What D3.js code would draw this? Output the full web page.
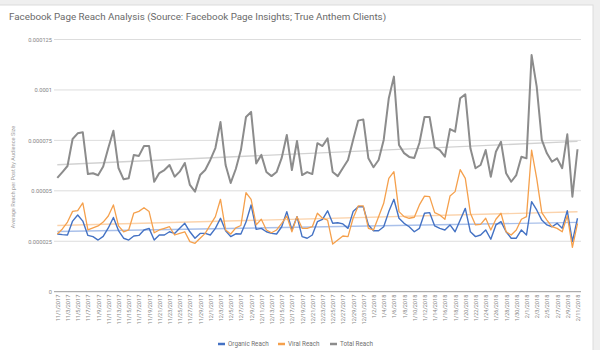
<!DOCTYPE html>
<html>
<head>
<meta charset="utf-8">
<script src="https://cdn.jsdelivr.net/npm/d3@7"></script>
<style>
  html, body { margin: 0; padding: 0; background: #efefef; }
  svg { display: block; font-family: Roboto, "Noto Sans", Arial, sans-serif; }
</style>
</head>
<body>
<svg id="chart" width="600" height="350"></svg>
<script>
// Daily averages, 11/1/2017 through 2/11/2018
const startDate = new Date(2017, 10, 1);
const endDate = new Date(2018, 1, 12);

const organicReach = [
  28.6e-6, 28.3e-6, 28.1e-6, 35.0e-6, 38.0e-6, 35.0e-6, 27.9e-6, 27.3e-6, 25.6e-6, 27.4e-6,
  31.6e-6, 36.8e-6, 30.3e-6, 26.5e-6, 25.6e-6, 27.6e-6, 27.9e-6, 30.6e-6, 31.4e-6, 25.6e-6,
  28.1e-6, 28.1e-6, 29.7e-6, 28.9e-6, 31.4e-6, 33.9e-6, 29.7e-6, 26.5e-6, 28.9e-6, 28.9e-6,
  28.1e-6, 31.4e-6, 36.4e-6, 30.2e-6, 27.3e-6, 28.7e-6, 28.6e-6, 34.5e-6, 43.0e-6, 30.9e-6,
  31.4e-6, 29.7e-6, 28.9e-6, 28.6e-6, 32.2e-6, 39.7e-6, 30.6e-6, 37.2e-6, 27.3e-6, 26.5e-6,
  28.1e-6, 34.7e-6, 35.9e-6, 40.1e-6, 33.9e-6, 34.2e-6, 33.6e-6, 31.4e-6, 39.7e-6, 42.1e-6,
  42.1e-6, 33.1e-6, 30.2e-6, 30.2e-6, 32.2e-6, 39.7e-6, 45.8e-6, 36.4e-6, 33.9e-6, 32.2e-6,
  29.7e-6, 31.4e-6, 38.9e-6, 39.2e-6, 32.6e-6, 31.4e-6, 30.6e-6, 33.1e-6, 29.7e-6, 35.5e-6,
  41.3e-6, 29.7e-6, 27.3e-6, 28.1e-6, 30.6e-6, 26.0e-6, 33.1e-6, 34.7e-6, 29.7e-6, 26.5e-6,
  26.5e-6, 30.6e-6, 28.1e-6, 44.6e-6, 40.5e-6, 35.5e-6, 33.1e-6, 32.2e-6, 33.9e-6, 31.4e-6,
  40.1e-6, 24.8e-6, 36.4e-6
];

const viralReach = [
  28.6e-6, 31.1e-6, 34.5e-6, 39.8e-6, 40.2e-6, 44.0e-6, 30.6e-6, 31.6e-6, 32.6e-6, 34.5e-6,
  37.5e-6, 43.0e-6, 32.6e-6, 29.7e-6, 30.6e-6, 39.0e-6, 39.8e-6, 41.6e-6, 39.7e-6, 29.2e-6,
  30.6e-6, 31.4e-6, 32.2e-6, 28.1e-6, 28.9e-6, 29.7e-6, 24.8e-6, 24.0e-6, 26.5e-6, 28.9e-6,
  33.1e-6, 37.2e-6, 45.8e-6, 30.6e-6, 28.6e-6, 31.6e-6, 32.8e-6, 49.1e-6, 45.8e-6, 33.1e-6,
  35.9e-6, 30.6e-6, 29.2e-6, 30.6e-6, 33.9e-6, 37.5e-6, 29.7e-6, 37.2e-6, 31.4e-6, 31.4e-6,
  32.2e-6, 38.9e-6, 36.4e-6, 35.5e-6, 23.6e-6, 25.6e-6, 27.6e-6, 27.3e-6, 36.4e-6, 42.5e-6,
  42.5e-6, 31.4e-6, 30.6e-6, 37.2e-6, 43.8e-6, 56.2e-6, 59.5e-6, 39.7e-6, 37.2e-6, 36.4e-6,
  36.9e-6, 43.0e-6, 47.4e-6, 47.1e-6, 39.2e-6, 38.0e-6, 35.9e-6, 47.4e-6, 49.6e-6, 60.5e-6,
  56.2e-6, 38.9e-6, 33.1e-6, 33.4e-6, 36.4e-6, 30.6e-6, 35.9e-6, 38.9e-6, 29.7e-6, 28.1e-6,
  30.6e-6, 35.9e-6, 37.2e-6, 70.2e-6, 56.2e-6, 39.2e-6, 35.5e-6, 32.2e-6, 31.4e-6, 29.7e-6,
  37.7e-6, 22.0e-6, 33.9e-6
];

const totalReach = [
  56.4e-6, 59.3e-6, 62.3e-6, 75.7e-6, 78.5e-6, 79.0e-6, 58.3e-6, 58.7e-6, 57.7e-6, 62.0e-6,
  71.2e-6, 79.8e-6, 61.3e-6, 55.7e-6, 56.2e-6, 67.8e-6, 67.3e-6, 72.2e-6, 72.2e-6, 54.5e-6,
  58.8e-6, 60.3e-6, 62.8e-6, 57.0e-6, 59.5e-6, 63.8e-6, 52.9e-6, 49.6e-6, 57.8e-6, 60.3e-6,
  65.3e-6, 71.2e-6, 84.1e-6, 62.8e-6, 53.9e-6, 60.8e-6, 70.2e-6, 86.6e-6, 89.1e-6, 63.6e-6,
  67.8e-6, 59.3e-6, 57.3e-6, 59.3e-6, 66.3e-6, 77.7e-6, 60.3e-6, 74.7e-6, 57.8e-6, 59.3e-6,
  58.3e-6, 73.6e-6, 72.2e-6, 76.0e-6, 59.3e-6, 57.3e-6, 61.3e-6, 65.3e-6, 75.2e-6, 84.8e-6,
  85.4e-6, 66.1e-6, 61.7e-6, 65.3e-6, 75.2e-6, 95.9e-6, 106.6e-6, 72.7e-6, 68.7e-6, 66.8e-6,
  66.3e-6, 73.7e-6, 86.6e-6, 86.6e-6, 71.7e-6, 70.2e-6, 66.9e-6, 80.6e-6, 79.3e-6, 95.9e-6,
  97.8e-6, 71.1e-6, 61.2e-6, 62.8e-6, 70.2e-6, 57.0e-6, 69.4e-6, 74.3e-6, 58.7e-6, 54.5e-6,
  57.8e-6, 66.9e-6, 66.1e-6, 117.3e-6, 101.6e-6, 75.2e-6, 68.6e-6, 64.4e-6, 66.1e-6, 61.2e-6,
  78.0e-6, 47.1e-6, 70.6e-6
];

const yTickValues = [0, 0.000025, 0.00005, 0.000075, 0.0001, 0.000125];
const yTickLabels = ["0", "0.000025", "0.00005", "0.000075", "0.0001", "0.000125"];
const seriesNames = ["Organic Reach", "Viral Reach", "Total Reach"];

const dates = d3.timeDay.range(startDate, endDate);
const fmtDate = d => `${d.getMonth() + 1}/${d.getDate()}/${d.getFullYear()}`;

const series = [
  { name: seriesNames[0], values: organicReach, color: "#4472c4", trend: "#a9c0ea", width: 1.4 },
  { name: seriesNames[1], values: viralReach,   color: "#f5a04c", trend: "#fbd3ac", width: 1.3 },
  { name: seriesNames[2], values: totalReach,   color: "#8c8c8c", trend: "#d2d2d2", width: 2.0 }
];

const svg = d3.select("#chart");

// card
svg.append("rect")
  .attr("x", -1).attr("y", 5).attr("width", 594).attr("height", 350)
  .attr("fill", "#ffffff").attr("stroke", "#dcdcdc");

svg.append("text")
  .attr("x", 9).attr("y", 19.5)
  .attr("font-size", 9.8).attr("fill", "#6a6a6a")
  .text("Facebook Page Reach Analysis (Source: Facebook Page Insights; True Anthem Clients)");

const x = d3.scalePoint().domain(d3.range(dates.length)).range([57.3, 577.5]);
const y = d3.scaleLinear().domain([0, 0.000125]).range([291.7, 39.5]);

// gridlines
svg.append("g").selectAll("line")
  .data(yTickValues)
  .join("line")
  .attr("x1", 54).attr("x2", 581)
  .attr("y1", d => y(d)).attr("y2", d => y(d))
  .attr("stroke", d => d === 0 ? "#9a9a9a" : "#dddddd")
  .attr("stroke-width", 1);

// y axis labels
const yAxis = d3.axisLeft(y).tickValues(yTickValues)
  .tickFormat((d, i) => yTickLabels[i]).tickSize(0).tickPadding(0);
svg.append("g")
  .attr("transform", "translate(52,0)")
  .call(yAxis)
  .call(g => g.select(".domain").remove())
  .call(g => g.selectAll("text")
    .attr("font-size", 5.7).attr("fill", "#858585")
    .attr("font-family", "Roboto, sans-serif"));

svg.append("text")
  .attr("transform", "translate(15,177) rotate(-90)")
  .attr("text-anchor", "middle")
  .attr("font-size", 5.6).attr("fill", "#a0a0a0")
  .text("Average Reach per Post by Audience Size");

// x axis labels, every other day
const xAxis = d3.axisBottom(x)
  .tickValues(d3.range(0, dates.length, 2))
  .tickFormat(i => fmtDate(dates[i])).tickSize(0).tickPadding(0);
svg.append("g")
  .attr("transform", "translate(0,291.7)")
  .call(xAxis)
  .call(g => g.select(".domain").remove())
  .call(g => g.selectAll("text")
    .attr("font-size", 5.6).attr("fill", "#858585")
    .attr("font-family", "Roboto, sans-serif")
    .attr("text-anchor", "end")
    .attr("transform", "translate(0,3) rotate(-90)")
    .attr("dx", 0).attr("dy", "0.35em").attr("y", 0));

// linear trendlines
const idx = d3.range(dates.length);
function fitLine(vals) {
  const mx = d3.mean(idx), my = d3.mean(vals);
  let sxy = 0, sxx = 0;
  idx.forEach((xi, i) => { sxy += (xi - mx) * (vals[i] - my); sxx += (xi - mx) * (xi - mx); });
  const b = sxy / sxx, a = my - b * mx;
  return [0, dates.length - 1].map(i => [i, a + b * i]);
}
const trendG = svg.append("g");
series.forEach(s => {
  trendG.append("path")
    .datum(fitLine(s.values))
    .attr("fill", "none").attr("stroke", s.trend).attr("stroke-width", 1.4)
    .attr("d", d3.line().x(d => x(d[0])).y(d => y(d[1])));
});

// series lines
const line = d3.line().x((d, i) => x(i)).y(d => y(d)).curve(d3.curveLinear);
const linesG = svg.append("g");
series.forEach(s => {
  linesG.append("path")
    .datum(s.values)
    .attr("fill", "none").attr("stroke", s.color)
    .attr("stroke-width", s.width).attr("stroke-linejoin", "round")
    .attr("d", line);
});

// legend
const legendX = [218, 278, 330];
const legend = svg.append("g");
series.forEach((s, i) => {
  const g = legend.append("g").attr("transform", `translate(${legendX[i]},344)`);
  g.append("line").attr("x1", 0).attr("x2", 7).attr("y1", 0).attr("y2", 0)
    .attr("stroke", s.color).attr("stroke-width", 2.5);
  g.append("text").attr("x", 10).attr("y", 0).attr("dy", "0.35em")
    .attr("font-size", 6.3).attr("fill", "#707070").text(s.name);
});
</script>
</body>
</html>
